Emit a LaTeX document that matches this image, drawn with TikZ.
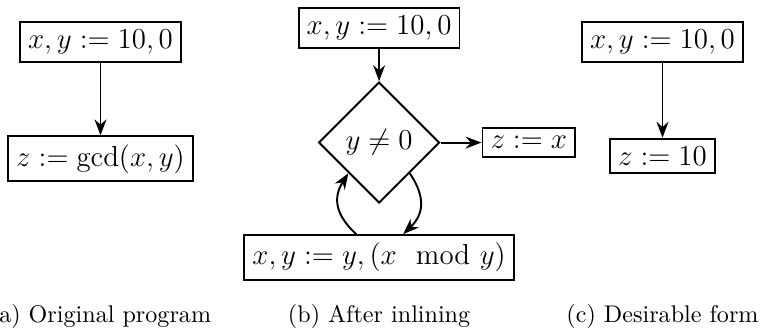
\documentclass[tikz,border=0pt]{standalone}
\usepackage{amsmath,amssymb}
\usepackage{tikz}
\usetikzlibrary{arrows.meta,positioning,shapes.geometric}

\begin{document}
\begin{tikzpicture}[>=Stealth, thick,
  stmt/.style={draw,font=\large},
  decision/.style={draw,diamond,aspect=1,inner sep=0pt,minimum size=50.2pt,font=\large},
  subcap/.style={anchor=base,font=\normalsize}]
\useasboundingbox (0,0) rectangle (316.6pt,-138.2pt);
% (a) original program
\node[stmt] (a1) at (41.7pt,-17.4pt) {$x,y := 10,0$};
\node[stmt,below=30pt of a1] (a2) {$z := \gcd(x,y)$};
\draw[->] (a1) -- (a2);
% (b) after inlining
\node[stmt] (b1) at (157.3pt,-11.6pt) {$x,y := 10,0$};
\node[decision,below=13.3pt of b1] (test) {$y \neq 0$};
\node[stmt,right=17pt of test] (bx) {$z := x$};
\node[stmt,below=12.5pt of test] (body) {$x,y := y,(x \mod y)$};
\draw[->] (b1) -- (test);
\draw[->] (test) -- (bx);
\draw[->] ([xshift=-9.5pt]body.north) to[bend left=40,looseness=1.2] (test.south west);
\draw[->] (test.south east) to[bend left=40,looseness=1.2] ([xshift=10pt]body.north);
% (c) desirable form
\node[stmt] (c1) at (274.9pt,-17.4pt) {$x,y := 10,0$};
\node[stmt,below=31pt of c1] (c2) {$z := 10$};
\draw[->] (c1) -- (c2);
% captions
\node[subcap] (capa) at (41.7pt,-134pt) {(a) Original program};
\node[subcap] (capb) at (157.3pt,-134pt) {(b) After inlining};
\node[subcap] (capc) at (274.9pt,-134pt) {(c) Desirable form};
\end{tikzpicture}
\end{document}
